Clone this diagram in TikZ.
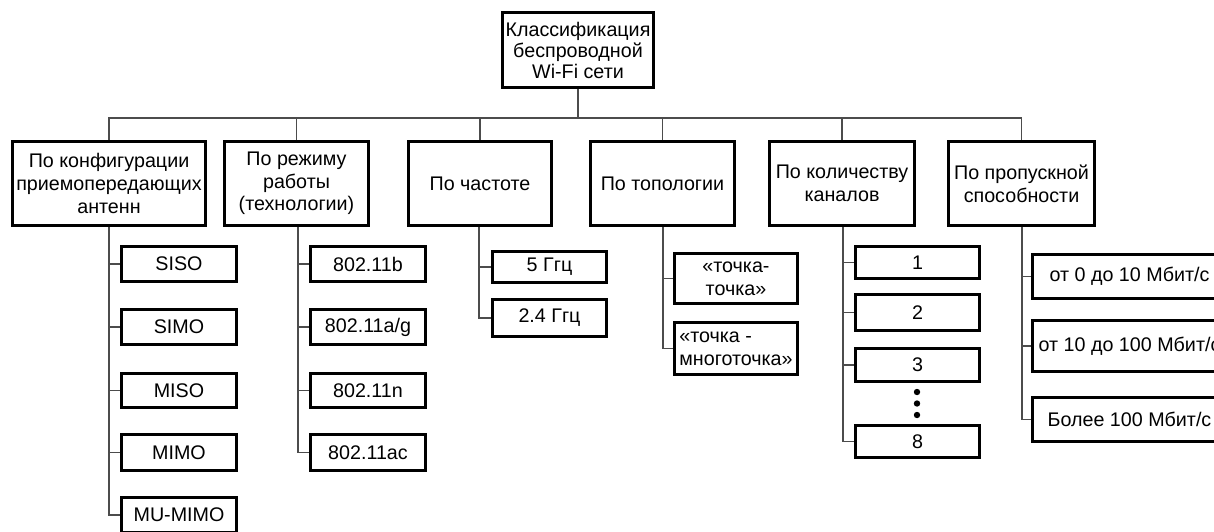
\documentclass[tikz,border=0pt]{standalone}
\usepackage{fontspec}
\setmainfont{Liberation Sans}
\tikzset{
  box/.style={draw=black, line width=3pt, fill=white, inner sep=1pt, align=center,
    font=\fontsize{19.7}{22.6}\selectfont},
  conn/.style={draw=black!70, line width=1.2pt},
}
% \bx{name}{x1}{y1}{x2}{y2}{options}{text}  (outer edges in px)
\newcommand\bx[7]{%
  \node[box, minimum width={(#4)*1pt-(#2)*1pt-3pt}, minimum height={(#5)*1pt-(#3)*1pt-3pt}, #6]
    (#1) at ({((#2)+(#4))/2},{((#3)+(#5))/2}) {#7};}
\begin{document}
\begin{tikzpicture}[x=1pt,y=-1pt]
\useasboundingbox (0,0) rectangle (1214,531);
\fill[white] (0,0) rectangle (1214,531);
% top
\bx{top}{501}{11}{655}{89}{font=\fontsize{19.7}{21}\selectfont}{Классификация\\беспроводной\\Wi-Fi сети}
% level 1
\bx{c1}{11}{140}{207}{227}{}{По конфигурации\\приемопередающих\\антенн}
\bx{c2}{223}{140}{370}{227}{}{По режиму\\работы\\(технологии)}
\bx{c3}{407}{140}{553}{227}{}{По частоте}
\bx{c4}{589}{140}{736}{227}{}{По топологии}
\bx{c5}{768}{140}{916}{227}{}{По количеству\\каналов}
\bx{c6}{947}{140}{1096}{227}{}{По пропускной\\способности}
% column 1
\bx{a1}{120}{245}{238}{283}{}{SISO}
\bx{a2}{120}{308}{238}{346}{}{SIMO}
\bx{a3}{120}{372}{238}{409}{}{MISO}
\bx{a4}{120}{433}{238}{472}{}{MIMO}
\bx{a5}{120}{496}{238}{534}{}{MU-MIMO}
% column 2
\bx{b1}{309}{245}{427}{283}{}{802.11b}
\bx{b2}{309}{308}{427}{346}{}{802.11a/g}
\bx{b3}{309}{372}{427}{409}{}{802.11n}
\bx{b4}{309}{433}{427}{472}{}{802.11ac}
% column 3
\bx{f1}{491}{250}{608}{284}{}{5 Ггц}
\bx{f2}{491}{298}{608}{338}{}{2.4 Ггц}
% column 4
\bx{t1}{673}{252}{799}{305}{}{«точка-\\точка»}
\bx{t2}{673}{321}{799}{376}{align=left}{«точка -\\многоточка»}
% column 5
\bx{k1}{854}{245}{981}{280}{}{1}
\bx{k2}{854}{293}{981}{332}{}{2}
\bx{k3}{854}{347}{981}{383}{}{3}
\bx{k8}{854}{424}{981}{459}{}{8}
% column 6
\bx{p1}{1031}{253}{1228}{300}{}{от 0 до 10 Мбит/с}
\bx{p2}{1031}{319}{1228}{373}{}{от 10 до 100 Мбит/с}
\bx{p3}{1031}{396}{1228}{443}{}{Более 100 Мбит/с}
% dots
\fill (917,392) circle (3.2);
\fill (917,403.5) circle (3.2);
\fill (917,415) circle (3.2);
% bus
\coordinate (bus) at (0,118);
\draw[conn] (top.south) -- (top.south |- bus);
\draw[conn] (c1.north) |- (c6.north |- bus) -- (c6.north);
\foreach \n in {c2,c3,c4,c5} \draw[conn] (\n.north) -- (\n.north |- bus);
% spines
\coordinate (s1) at (109,0);
\coordinate (s2) at (298,0);
\coordinate (s3) at (479,0);
\coordinate (s4) at (663,0);
\coordinate (s5) at (843,0);
\coordinate (s6) at (1022,0);
\draw[conn] (c1.south -| s1) |- (a5.west);
\foreach \n in {a1,a2,a3,a4} \draw[conn] (s1 |- \n.west) -- (\n.west);
\draw[conn] (c2.south -| s2) |- (b4.west);
\foreach \n in {b1,b2,b3} \draw[conn] (s2 |- \n.west) -- (\n.west);
\draw[conn] (c3.south -| s3) |- (f2.west);
\draw[conn] (s3 |- f1.west) -- (f1.west);
\draw[conn] (c4.south -| s4) |- (t2.west);
\draw[conn] (s4 |- t1.west) -- (t1.west);
\draw[conn] (c5.south -| s5) |- (k8.west);
\foreach \n in {k1,k2,k3} \draw[conn] (s5 |- \n.west) -- (\n.west);
\draw[conn] (c6.south -| s6) |- (p3.west);
\foreach \n in {p1,p2} \draw[conn] (s6 |- \n.west) -- (\n.west);
\end{tikzpicture}
\end{document}
